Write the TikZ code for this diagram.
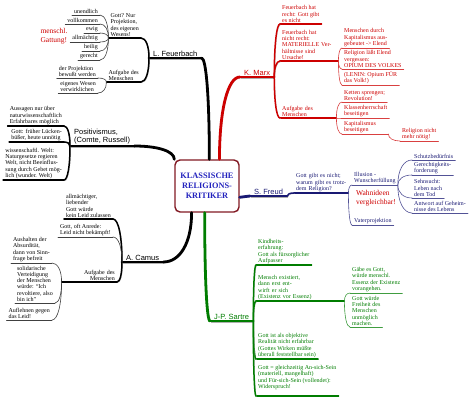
\documentclass[tikz,border=0pt]{standalone}
\usepackage{fontspec}
\setmainfont{Liberation Serif}
\setsansfont{Liberation Sans}
\usepackage{tikz}
\usetikzlibrary{calc}
\definecolor{hubred}{RGB}{130,25,35}
\definecolor{hubblue}{RGB}{35,35,190}
\definecolor{marxred}{RGB}{205,0,0}
\definecolor{freudblue}{RGB}{25,25,115}
\definecolor{sartregreen}{RGB}{0,125,0}
\definecolor{shade}{RGB}{175,175,175}
\newcommand\leaffont{\fontsize{6}{6.3}\selectfont}

\begin{document}
\begin{tikzpicture}[x=1pt, y=1pt,
    hub/.style={draw=hubred, line width=1.4pt, rounded corners=5pt, fill=white,
                minimum width=64pt, minimum height=52pt, align=center, text=hubblue,
                font=\bfseries\fontsize{8.3}{10}\selectfont},
    trunk/.style={draw=#1, line width=2.8pt, line cap=round,
                  preaction={draw=shade, transform canvas={shift={(0.9pt,-0.9pt)}}}},
    link/.style={draw=#1, line width=1.5pt, line cap=round,
                 preaction={draw=shade, transform canvas={shift={(0.7pt,-0.7pt)}}}},
    twig/.style={draw=#1!75!white, line width=0.6pt, line cap=round},
    topic/.style={text=#1, font=\sffamily\fontsize{7.5}{8.5}\selectfont, align=left,
                  inner xsep=4pt, inner ysep=1.5pt,
                  append after command={(\tikzlastnode.south west) edge[trunk=#1] (\tikzlastnode.south east)}},
    sub/.style={text=#1, font=\leaffont, align=left, inner xsep=2pt, inner ysep=1.2pt,
                append after command={(\tikzlastnode.south west) edge[link=#1] (\tikzlastnode.south east)}},
    leaf/.style={text=#1, font=\leaffont, align=left, inner xsep=2pt, inner ysep=1.2pt,
                 append after command={(\tikzlastnode.south west) edge[twig=#1] (\tikzlastnode.south east)}},
    note/.style={text=marxred, font=\fontsize{7.5}{9}\selectfont, align=left, inner sep=0pt},
    elbow/.style={to path={.. controls ($(\tikztostart)!.6!(\tikztostart |- \tikztotarget)$)
                     and ($(\tikztotarget)!.6!(\tikztostart |- \tikztotarget)$) .. (\tikztotarget)}}
  ]
  \useasboundingbox (0,0) rectangle (474,407);

  %% ---- centre
  \node[hub] (hub) at (207,221) {KLASSISCHE\\RELIGIONS-\\KRITIKER};

  %% ---- L. Feuerbach (top left)
  \node[topic=black, anchor=south west] (feuer)  at (149,349) {L. Feuerbach};
  \node[sub=black,   anchor=south east] (proj)   at (141,369) {Gott? Nur\\Projektion,\\des eigenen\\Wesens!};
  \node[sub=black,   anchor=south east] (fbtask) at (141,325) {Aufgabe des\\Menschen};
  \node[leaf=black,  anchor=south east] (att1)   at (100,392) {unendlich};
  \node[leaf=black,  anchor=south east] (att2)   at (100,383) {vollkommen};
  \node[leaf=black,  anchor=south east] (att3)   at (100,374) {ewig};
  \node[leaf=black,  anchor=south east] (att4)   at (100,365) {allmächtig};
  \node[leaf=black,  anchor=south east] (att5)   at (100,356) {heilig};
  \node[leaf=black,  anchor=south east] (att6)   at (100,347) {gerecht};
  \node[note]                           (gattung) at (54,371) {menschl.\\Gattung!};
  \node[leaf=black,  anchor=south east] (bewusst) at (98,329) {der Projektion\\bewußt werden};
  \node[leaf=black,  anchor=south east] (wesen)   at (98,314) {eigenes Wesen\\verwirklichen};

  %% ---- Positivismus (left)
  \node[topic=black, anchor=south west] (posit)   at (70,261) {Positivismus,\\(Comte, Russell)};
  \node[sub=black,   anchor=south east] (aussage) at (64,281) {Aussagen nur über\\naturwissenschaftlich\\Erfahrbares möglich};
  \node[sub=black,   anchor=south east] (luecke)  at (64,265) {Gott: früher Lücken-\\büßer, heute unnötig};
  \node[sub=black,   anchor=south east] (welt)    at (64,227) {wissenschaftl. Welt:\\Naturgesetze regieren\\Welt, nicht Beeinflus-\\sung durch Gebet mög-\\lich (wunder. Welt)};

  %% ---- A. Camus (bottom left)
  \node[topic=black, anchor=south west] (camus)   at (122,145) {A. Camus};
  \node[sub=black,   anchor=south east] (leid)    at (113,188) {allmächtiger,\\liebender\\Gott würde\\kein Leid zulassen};
  \node[leaf=black,  anchor=south east] (anrede)  at (113,170) {Gott, oft Anrede:\\Leid nicht bekämpft!};
  \node[sub=black,   anchor=south east, text width=51pt, align=right] (camtask) at (117,125) {Aufgabe des\\Menschen};
  \node[leaf=black,  anchor=south east] (absurd)    at (52,144) {Aushalten der\\Absurdität,\\dann von Sinn-\\frage befreit};
  \node[leaf=black,  anchor=south east] (revolte)   at (55,104) {solidarische\\Verteidigung\\der Menschen\\würde: ``Ich\\revoltiere, also\\bin ich''};
  \node[leaf=black,  anchor=south east] (auflehnen) at (52,87)  {Auflehnen gegen\\das Leid!};

  %% ---- K. Marx (top right, red)
  \node[topic=marxred, anchor=south west] (marx)    at (240,330) {K. Marx};
  \node[sub=marxred,   anchor=south west] (recht)   at (280,383) {Feuerbach hat\\recht: Gott gibt\\es nicht};
  \node[sub=marxred,   anchor=south west, text width=54pt] (materie) at (280,346) {Feuerbach hat\\nicht recht:\\MATERIELLE Ver-\\hältnisse sind\\Ursache!};
  \node[sub=marxred,   anchor=south west, text width=52pt] (mxtask)  at (280,289) {Aufgabe des\\Menschen};
  \node[leaf=marxred,  anchor=south west] (elend)   at (342,359) {Menschen durch\\Kapitalismus aus-\\gebeutet -> Elend};
  \node[leaf=marxred,  anchor=south west] (opium)   at (342,338) {Religion läßt Elend\\vergessen:\\OPIUM DES VOLKES};
  \node[leaf=marxred,  anchor=south west] (lenin)   at (342,322) {(LENIN: Opium FÜR\\das Volk!)};
  \node[leaf=marxred,  anchor=south west] (ketten)  at (342,305) {Ketten sprengen;\\Revolution!};
  \node[leaf=marxred,  anchor=south west] (klassen) at (342,289) {Klassenherrschaft\\beseitigen};
  \node[leaf=marxred,  anchor=south west, text width=42pt] (kapital) at (342,273) {Kapitalismus\\beseitigen};
  \node[leaf=marxred,  anchor=south west] (noetig)  at (400,266) {Religion nicht\\mehr nötig!};

  %% ---- S. Freud (right, navy)
  \node[topic=freudblue, anchor=south west] (freud)    at (250,211) {S. Freud};
  \node[sub=freudblue,   anchor=south west, text width=50pt] (warum) at (294,214) {Gott gibt es nicht;\\warum gibt es trotz-\\dem Religion?};
  \node[leaf=freudblue,  anchor=south west] (illusion) at (352,222) {Illusion -\\Wunscherfüllung};
  \node[note]                               (wahn)     at (376,209) {Wahnideen\\vergleichbar!};
  \node[leaf=freudblue,  anchor=south west] (vater)    at (352,182) {Vaterprojektion};
  \node[leaf=freudblue,  anchor=south west] (schutz)   at (412,247) {Schutzbedürfnis};
  \node[leaf=freudblue,  anchor=south west] (gerecht)  at (412,232) {Gerechtigkeits-\\forderung};
  \node[leaf=freudblue,  anchor=south west] (tod)      at (412,209) {Sehnsucht:\\Leben nach\\dem Tod};
  \node[leaf=freudblue,  anchor=south west] (geheim)   at (412,194) {Antwort auf Geheim-\\nisse des Lebens};

  %% ---- J-P. Sartre (bottom, green)
  \node[topic=sartregreen, anchor=south west] (sartre)   at (210,86)  {J-P. Sartre};
  \node[sub=sartregreen,   anchor=south west] (kind)     at (256,142) {Kindheits-\\erfahrung:\\Gott als fürsorglicher\\Aufpasser};
  \node[sub=sartregreen,   anchor=south west, text width=84pt] (existenz) at (256,106) {Mensch existiert,\\dann erst ent-\\wirft er sich\\(Existenz vor Essenz)};
  \node[sub=sartregreen,   anchor=south west] (objektiv) at (256,48)  {Gott ist als objektive\\Realität nicht erfahrbar\\(Gottes Wirken müßte\\überall feststellbar sein)};
  \node[sub=sartregreen,   anchor=south west] (ansich)   at (256,11)  {Gott = gleichzeitig An-sich-Sein\\(materiell, mangelhaft)\\ und Für-sich-Sein (vollendet):\\Widerspruch!\\\mbox{}};
  \node[leaf=sartregreen,  anchor=south west] (essenz)   at (350,114) {Gäbe es Gott,\\würde menschl.\\Essenz der Existenz\\vorangehen.};
  \node[leaf=sartregreen,  anchor=south west] (freiheit) at (350,80)  {Gott würde\\Freiheit des\\Menschen\\unmöglich\\machen.};

  %% ---- main branches out of the centre
  \draw[trunk=black]       (hub.85)         to[elbow] (feuer.south east);
  \draw[trunk=black]       (hub.north west) to[elbow] (posit.south east);
  \draw[trunk=black]       (hub.240)        to[elbow] (camus.south east);
  \draw[trunk=marxred]     (hub.65)         to[elbow] (marx.south west);
  \draw[trunk=freudblue]   (hub.341)        --        (freud.south west);
  \draw[trunk=sartregreen] (hub.265)        to[elbow] (sartre.south west);

  %% ---- Feuerbach
  \draw[link=black] (feuer.south west) to[elbow] (proj.south east);
  \draw[link=black] (feuer.south west) to[elbow] (fbtask.south east);
  \draw[twig=black] (proj.south west) to[elbow] (att1.south east);
  \draw[twig=black] (proj.south west) to[elbow] (att2.south east);
  \draw[twig=black] (proj.south west) to[elbow] (att3.south east);
  \draw[twig=black] (proj.south west) to[elbow] (att4.south east);
  \draw[twig=black] (proj.south west) to[elbow] (att5.south east);
  \draw[twig=black] (proj.south west) to[elbow] (att6.south east);
  \draw[twig=black] (fbtask.south west) to[elbow] (bewusst.south east);
  \draw[twig=black] (fbtask.south west) to[elbow] (wesen.south east);

  %% ---- Positivismus
  \draw[link=black] (posit.south west) to[elbow] (aussage.south east);
  \draw[link=black] (posit.south west) to[elbow] (luecke.south east);
  \draw[link=black] (posit.south west) to[elbow] (welt.south east);

  %% ---- Camus
  \draw[link=black] (camus.south west) to[elbow] (leid.south east);
  \draw[twig=black] (camus.south west) to[elbow] (anrede.south east);
  \draw[link=black] (camus.south west) to[elbow] (camtask.south east);
  \draw[twig=black] (camtask.south west) to[elbow] (absurd.south east);
  \draw[twig=black] (camtask.south west) to[elbow] (revolte.south east);
  \draw[twig=black] (camtask.south west) to[elbow] (auflehnen.south east);

  %% ---- Marx
  \draw[link=marxred] (marx.south east) to[elbow] (recht.south west);
  \draw[link=marxred] (marx.south east) to[elbow] (materie.south west);
  \draw[link=marxred] (marx.south east) to[elbow] (mxtask.south west);
  \draw[twig=marxred] (materie.south east) to[elbow] (elend.south west);
  \draw[twig=marxred] (materie.south east) to[elbow] (opium.south west);
  \draw[twig=marxred] (materie.south east) to[elbow] (lenin.south west);
  \draw[twig=marxred] (mxtask.south east) to[elbow] (ketten.south west);
  \draw[twig=marxred] (mxtask.south east) to[elbow] (klassen.south west);
  \draw[twig=marxred] (mxtask.south east) to[elbow] (kapital.south west);
  \draw[twig=marxred] (kapital.south east) to[elbow] (noetig.south west);

  %% ---- Freud
  \draw[link=freudblue] (freud.south east) to[elbow] (warum.south west);
  \draw[twig=freudblue] (warum.south east) to[elbow] (illusion.south west);
  \draw[twig=freudblue] (warum.south east) to[elbow] (vater.south west);
  \draw[twig=freudblue] (illusion.south east) to[elbow] (schutz.south west);
  \draw[twig=freudblue] (illusion.south east) to[elbow] (gerecht.south west);
  \draw[twig=freudblue] (illusion.south east) to[elbow] (tod.south west);
  \draw[twig=freudblue] (illusion.south east) to[elbow] (geheim.south west);

  %% ---- Sartre
  \draw[link=sartregreen] (sartre.south east) to[elbow] (kind.south west);
  \draw[link=sartregreen] (sartre.south east) to[elbow] (existenz.south west);
  \draw[link=sartregreen] (sartre.south east) to[elbow] (objektiv.south west);
  \draw[link=sartregreen] (sartre.south east) to[elbow] (ansich.south west);
  \draw[twig=sartregreen] (existenz.south east) to[elbow] (essenz.south west);
  \draw[twig=sartregreen] (existenz.south east) to[elbow] (freiheit.south west);
\end{tikzpicture}
\end{document}
